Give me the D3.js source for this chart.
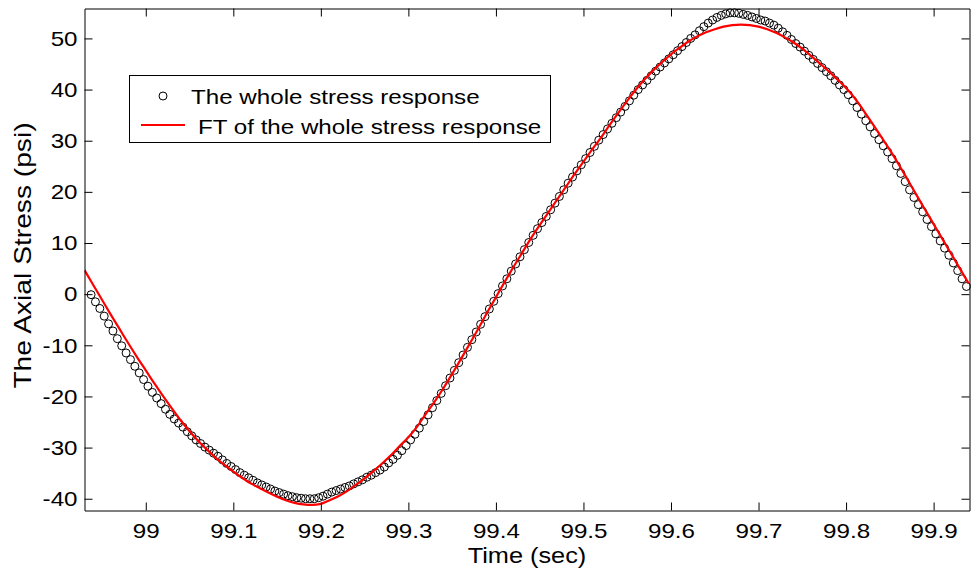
<!DOCTYPE html>
<html>
<head>
<meta charset="utf-8">
<script src="https://cdn.jsdelivr.net/npm/d3@7"></script>
<style>
  body { margin: 0; background: #fff; }
  svg text { font-family: "Liberation Sans", Arial, Helvetica, sans-serif; fill: #000; }
</style>
</head>
<body>
<svg id="chart" width="971" height="571"></svg>
<script>
// measured stress, sampled every 0.005 s from 98.9375 s
var sampleStart = 98.9375;
var sampleStep = 0.005;
var stressResponse = [
	-0.1, -1.5, -2.8, -4.3, -5.8, -7.2, -8.7, -10.1, -11.5, -12.8,
	-14.1, -15.4, -16.7, -18.0, -19.2, -20.3, -21.4, -22.5, -23.5, -24.4,
	-25.2, -26.0, -26.9, -27.7, -28.5, -29.2, -29.9, -30.5, -31.1, -31.7,
	-32.4, -33.1, -33.7, -34.3, -34.9, -35.4, -35.9, -36.4, -36.9, -37.3,
	-37.7, -38.1, -38.5, -38.8, -39.1, -39.4, -39.6, -39.8, -39.9, -40.0,
	-40.0, -40.0, -39.8, -39.5, -39.1, -38.7, -38.4, -38.1, -37.8, -37.5,
	-37.1, -36.7, -36.3, -35.8, -35.4, -34.9, -34.4, -33.8, -33.0, -32.3,
	-31.5, -30.6, -29.6, -28.5, -27.4, -26.2, -24.9, -23.6, -22.2, -20.8,
	-19.4, -17.9, -16.4, -14.9, -13.4, -11.9, -10.4, -8.9, -7.4, -5.9,
	-4.4, -2.9, -1.4, 0.1, 1.6, 3.0, 4.5, 5.9, 7.3, 8.7,
	10.1, 11.5, 12.8, 14.0, 15.2, 16.5, 17.8, 19.1, 20.4, 21.7,
	22.9, 24.1, 25.3, 26.5, 27.7, 28.9, 30.1, 31.2, 32.3, 33.4,
	34.5, 35.6, 36.7, 37.8, 38.9, 40.0, 40.9, 41.8, 42.7, 43.6,
	44.4, 45.2, 46.0, 46.8, 47.6, 48.4, 49.2, 50.0, 50.7, 51.5,
	52.3, 53.0, 53.6, 54.1, 54.5, 54.8, 55.0, 55.0, 54.9, 54.7,
	54.5, 54.2, 53.9, 53.6, 53.4, 53.0, 52.6, 52.0, 51.3, 50.6,
	49.8, 49.0, 48.3, 47.5, 46.7, 45.9, 45.1, 44.3, 43.5, 42.7,
	41.8, 40.9, 40.0, 39.0, 37.8, 36.5, 35.2, 33.9, 32.7, 31.4,
	30.2, 29.0, 27.8, 26.5, 25.1, 23.6, 22.0, 20.4, 18.9, 17.5,
	16.1, 14.6, 13.2, 11.8, 10.4, 9.0, 7.6, 6.1, 4.6, 3.0,
	1.5
];

// FT fit, every 0.01 s from 98.93 s
var fitStart = 98.93;
var fitStep = 0.01;
var fitResponse = [
	4.7, 1.8, -1.1, -4.0, -6.8, -9.6, -12.3, -14.9, -17.5, -20.0,
	-22.4, -24.7, -26.8, -28.7, -30.4, -32.0, -33.4, -34.7, -35.9, -37.0,
	-37.9, -38.8, -39.6, -40.3, -40.8, -41.1, -41.2, -41.0, -40.3, -39.5,
	-38.5, -37.3, -36.0, -34.6, -33.1, -31.5, -29.7, -28.0, -25.9, -23.4,
	-21.0, -18.4, -15.6, -12.7, -9.7, -6.7, -3.6, -0.6, 2.4, 5.3,
	8.1, 10.9, 13.5, 16.0, 18.5, 21.0, 23.5, 25.9, 28.3, 30.6,
	33.1, 35.5, 37.8, 40.0, 42.0, 43.8, 45.4, 46.9, 48.2, 49.4,
	50.4, 51.2, 51.8, 52.3, 52.6, 52.7, 52.6, 52.3, 51.8, 51.1,
	50.2, 49.2, 48.0, 46.6, 45.1, 43.6, 42.0, 40.3, 38.3, 35.9,
	33.4, 30.8, 28.2, 25.4, 22.5, 19.5, 16.6, 13.7, 10.8, 7.9,
	5.0, 2.1
];

var xDomain = [98.93, 99.941];
var yDomain = [-42.3, 55.85];
var xTicks = [99, 99.1, 99.2, 99.3, 99.4, 99.5, 99.6, 99.7, 99.8, 99.9];
var xTickLabels = ['99', '99.1', '99.2', '99.3', '99.4', '99.5', '99.6', '99.7', '99.8', '99.9'];
var yTicks = [-40, -30, -20, -10, 0, 10, 20, 30, 40, 50];
var yTickLabels = ['-40', '-30', '-20', '-10', '0', '10', '20', '30', '40', '50'];
var legendLabels = ['The whole stress response', 'FT of the whole stress response'];

var plot = {left: 84.5, top: 8.5, right: 969.5, bottom: 510.5};
var fontSize = 21;

var svg = d3.select('#chart');

var x = d3.scaleLinear().domain(xDomain).range([plot.left, plot.right]);
var y = d3.scaleLinear().domain(yDomain).range([plot.bottom, plot.top]);

var points = stressResponse.map(function(v, i) { return {t: sampleStart + i * sampleStep, v: v}; });
var fit = fitResponse.map(function(v, i) { return {t: fitStart + i * fitStep, v: v}; });

svg.append('defs').append('clipPath').attr('id', 'clip')
	.append('rect')
	.attr('x', plot.left).attr('y', plot.top)
	.attr('width', plot.right - plot.left).attr('height', plot.bottom - plot.top);

// circles first, red line drawn over them
svg.append('g')
	.selectAll('circle')
	.data(points)
	.enter().append('circle')
	.attr('cx', function(d) { return x(d.t); })
	.attr('cy', function(d) { return y(d.v); })
	.attr('r', 4)
	.attr('fill', 'none')
	.attr('stroke', '#000')
	.attr('stroke-width', 1);

var line = d3.line()
	.x(function(d) { return x(d.t); })
	.y(function(d) { return y(d.v); })
	.curve(d3.curveMonotoneX);

svg.append('path')
	.datum(fit)
	.attr('clip-path', 'url(#clip)')
	.attr('d', line)
	.attr('fill', 'none')
	.attr('stroke', '#ff0000')
	.attr('stroke-width', 2.2);

// axes, ticks pointing inwards on all four sides
var bottomAxis = svg.append('g')
	.attr('transform', 'translate(0,' + plot.bottom + ')')
	.call(d3.axisBottom(x).tickValues(xTicks)
		.tickFormat(function(d, i) { return xTickLabels[i]; })
		.tickSizeInner(-8).tickSizeOuter(0).tickPadding(13));

var leftAxis = svg.append('g')
	.attr('transform', 'translate(' + plot.left + ',0)')
	.call(d3.axisLeft(y).tickValues(yTicks)
		.tickFormat(function(d, i) { return yTickLabels[i]; })
		.tickSizeInner(-8).tickSizeOuter(0).tickPadding(7));

svg.append('g')
	.attr('transform', 'translate(0,' + plot.top + ')')
	.call(d3.axisTop(x).tickValues(xTicks).tickFormat('').tickSizeInner(-8).tickSizeOuter(0));

svg.append('g')
	.attr('transform', 'translate(' + plot.right + ',0)')
	.call(d3.axisRight(y).tickValues(yTicks).tickFormat('').tickSizeInner(-8).tickSizeOuter(0));

svg.selectAll('.domain, .tick line').attr('stroke', '#000').attr('stroke-width', 1);
bottomAxis.attr('font-size', fontSize);
leftAxis.attr('font-size', fontSize);

// axis titles
svg.append('text')
	.attr('x', (plot.left + plot.right) / 2)
	.attr('y', 563)
	.attr('text-anchor', 'middle')
	.attr('font-size', 22)
	.text('Time (sec)');

svg.append('text')
	.attr('transform', 'translate(31,' + ((plot.top + plot.bottom) / 2 - 4) + ') rotate(-90)')
	.attr('text-anchor', 'middle')
	.attr('font-size', 24.5)
	.text('The Axial Stress (psi)');

// legend
var legend = svg.append('g');
legend.append('rect')
	.attr('x', 129.5).attr('y', 75.5)
	.attr('width', 421).attr('height', 67)
	.attr('fill', '#fff')
	.attr('stroke', '#000')
	.attr('stroke-width', 1);

legend.append('circle')
	.attr('cx', 163).attr('cy', 96)
	.attr('r', 4)
	.attr('fill', 'none')
	.attr('stroke', '#000');

legend.append('text')
	.attr('x', 191).attr('y', 104)
	.attr('font-size', fontSize)
	.text(legendLabels[0]);

legend.append('line')
	.attr('x1', 141).attr('x2', 185)
	.attr('y1', 125).attr('y2', 125)
	.attr('stroke', '#ff0000')
	.attr('stroke-width', 2);

legend.append('text')
	.attr('x', 198).attr('y', 134)
	.attr('font-size', fontSize)
	.text(legendLabels[1]);

// the picture's lettering runs wider than Arial, stretch it sideways
svg.selectAll('text').each(function() {
	var w = this.getComputedTextLength();
	if (w > 0) d3.select(this).attr('textLength', w * 1.15).attr('lengthAdjust', 'spacingAndGlyphs');
});
</script>
</body>
</html>
